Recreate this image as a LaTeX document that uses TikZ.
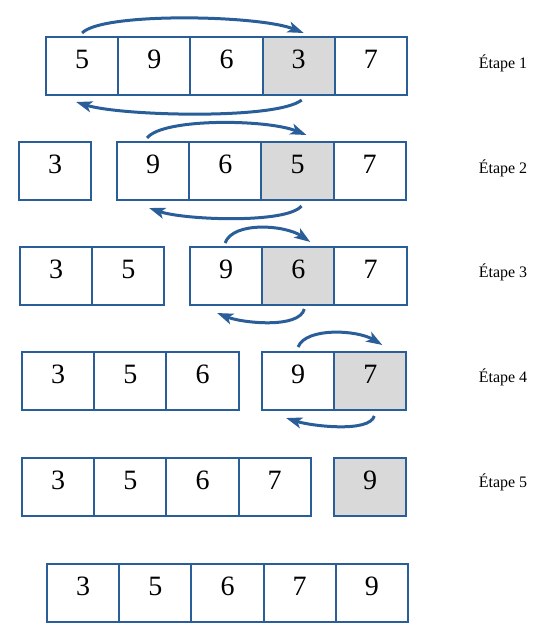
\documentclass[tikz,border=0pt]{standalone}
\usepackage{fontspec}
\setmainfont{Liberation Serif}
\usetikzlibrary{positioning,arrows.meta}
\definecolor{bordblue}{RGB}{42,94,152}
\definecolor{selgray}{RGB}{217,217,217}
\tikzset{
 cell/.style={draw=bordblue, line width=2pt, minimum width=72.2pt, minimum height=58pt,
   inner sep=0pt, outer sep=0pt, font=\fontsize{28}{30}\selectfont,
   text height=19pt, text depth=14pt, anchor=north west},
 sel/.style={fill=selgray},
 swaparrow/.style={draw=bordblue, line width=3pt, -{Stealth[length=16pt,width=11pt,inset=4pt]}},
 steplabel/.style={font=\fontsize{16}{18}\selectfont}
}
\begin{document}
\begin{tikzpicture}[x=1pt,y=-1pt]
\useasboundingbox (0,0) rectangle (541,643);
% Row 1
\node[cell] (r1c1) at (46,37) {5};
\node[cell, right=0pt of r1c1] (r1c2) {9};
\node[cell, right=0pt of r1c2] (r1c3) {6};
\node[cell, sel, right=0pt of r1c3] (r1c4) {3};
\node[cell, right=0pt of r1c4] (r1c5) {7};
% Row 2
\node[cell] (r2c1) at (19,142) {3};
\node[cell] (r2c2) at (117,142) {9};
\node[cell, right=0pt of r2c2] (r2c3) {6};
\node[cell, sel, right=0pt of r2c3] (r2c4) {5};
\node[cell, right=0pt of r2c4] (r2c5) {7};
% Row 3
\node[cell] (r3c1) at (20,247) {3};
\node[cell, right=0pt of r3c1] (r3c2) {5};
\node[cell] (r3c3) at (190,247) {9};
\node[cell, sel, right=0pt of r3c3] (r3c4) {6};
\node[cell, right=0pt of r3c4] (r3c5) {7};
% Row 4
\node[cell] (r4c1) at (22,352) {3};
\node[cell, right=0pt of r4c1] (r4c2) {5};
\node[cell, right=0pt of r4c2] (r4c3) {6};
\node[cell] (r4c4) at (262,352) {9};
\node[cell, sel, right=0pt of r4c4] (r4c5) {7};
% Row 5
\node[cell] (r5c1) at (22,458) {3};
\node[cell, right=0pt of r5c1] (r5c2) {5};
\node[cell, right=0pt of r5c2] (r5c3) {6};
\node[cell, right=0pt of r5c3] (r5c4) {7};
\node[cell, sel] (r5c5) at (334,458) {9};
% Row 6
\node[cell] (r6c1) at (47,564) {3};
\node[cell, right=0pt of r6c1] (r6c2) {5};
\node[cell, right=0pt of r6c2] (r6c3) {6};
\node[cell, right=0pt of r6c3] (r6c4) {7};
\node[cell, right=0pt of r6c4] (r6c5) {9};
% Labels
\node[steplabel] (l1) at (503,63) {Étape 1};
\node[steplabel] (l2) at (503,168) {Étape 2};
\node[steplabel] (l3) at (503,272) {Étape 3};
\node[steplabel] (l4) at (503,377) {Étape 4};
\node[steplabel] (l5) at (503,482) {Étape 5};
% Arrows
\draw[swaparrow] ([yshift=4pt]r1c1.north) .. controls +(20,-21) and +(-45,-18) .. ([xshift=5pt,yshift=4pt]r1c4.north);
\draw[swaparrow] ([xshift=3pt,yshift=-5pt]r1c4.south) .. controls +(-25,20) and +(45,14) .. ([xshift=-6pt,yshift=-7pt]r1c1.south);
\draw[swaparrow] ([xshift=-6pt,yshift=4pt]r2c2.north) .. controls +(15,-20) and +(-40,-16) .. ([xshift=9pt,yshift=7pt]r2c4.north);
\draw[swaparrow] ([xshift=4pt,yshift=-6pt]r2c4.south) .. controls +(-15,18) and +(35,12) .. ([xshift=-4pt,yshift=-8pt]r2c2.south);
\draw[swaparrow] ([xshift=-1pt,yshift=4pt]r3c3.north) .. controls +(8,-22) and +(-25,-17) .. ([xshift=12pt,yshift=5pt]r3c4.north);
\draw[swaparrow] ([xshift=6pt,yshift=-4pt]r3c4.south) .. controls +(-5,20) and +(25,10) .. ([xshift=-9pt,yshift=-8pt]r3c3.south);
\draw[swaparrow] ([yshift=5pt]r4c4.north) .. controls +(8,-20) and +(-25,-15) .. ([xshift=12pt,yshift=7pt]r4c5.north);
\draw[swaparrow] ([xshift=4pt,yshift=-6pt]r4c5.south) .. controls +(-5,17) and +(25,8) .. ([xshift=-12pt,yshift=-8pt]r4c4.south);
\end{tikzpicture}
\end{document}
